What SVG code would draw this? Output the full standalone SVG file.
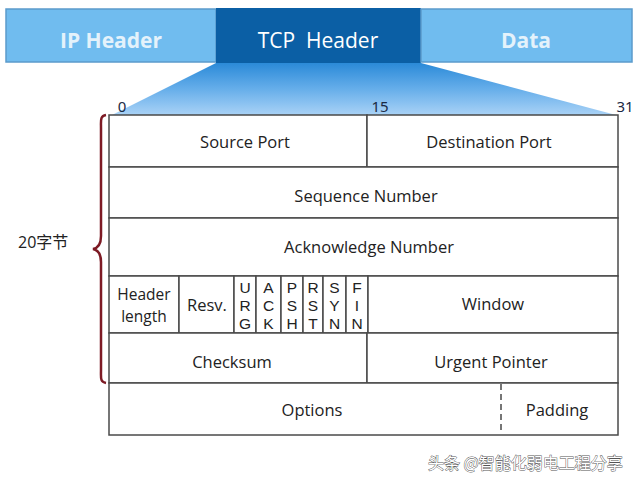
<svg xmlns="http://www.w3.org/2000/svg" width="640" height="484" viewBox="0 0 640 484">
<defs>
<linearGradient id="fan" x1="0" y1="0" x2="0" y2="1">
<stop offset="0" stop-color="#2b8ad8"/>
<stop offset="0.5" stop-color="#66aeea"/>
<stop offset="1" stop-color="#a9d2f6"/>
</linearGradient>
<style>
.cell{fill:#ffffff;stroke:#4a4a4a;stroke-width:1.5}
.ln{stroke:#4a4a4a;stroke-width:1.5;fill:none}
.t{font-family:"Open Sans","Noto Sans",sans-serif;font-size:16.5px;fill:#222;text-anchor:middle}
.h{font-family:"Open Sans","Noto Sans",sans-serif;font-size:15.5px;fill:#222;text-anchor:middle}
.f{font-family:"Liberation Sans",Arial,sans-serif;font-size:15.5px;fill:#222;text-anchor:middle}
.n{font-family:"Noto Sans","Open Sans",sans-serif;font-size:15px;fill:#1a2a44;text-anchor:middle}
.bar{font-family:"Open Sans","Noto Sans",sans-serif;font-size:21px;text-anchor:middle;white-space:pre}
</style>
</defs>
<rect width="640" height="484" fill="#ffffff"/>

<g id="ip-header">
<rect x="6" y="9" width="210" height="53" fill="#70bcef" stroke="#5b9bcc" stroke-width="1.5"/>
<text class="bar" x="111" y="48" fill="#e4f2fb" font-weight="bold">IP Header</text>
</g>
<g id="tcp-header">
<rect x="216" y="8" width="205" height="55" fill="#0b5fa5"/>
<text class="bar" x="318" y="48" fill="#ffffff" xml:space="preserve">TCP  Header</text>
</g>
<g id="data">
<rect x="421" y="9" width="211" height="53" fill="#70bcef" stroke="#5b9bcc" stroke-width="1.5"/>
<text class="bar" x="526" y="48" fill="#e4f2fb" font-weight="bold">Data</text>
</g>

<g id="expansion">
<polygon points="216,63 421,63 616,115 112,115" fill="url(#fan)"/>
</g>

<g id="bit-labels">
<text class="n" x="122" y="112">0</text>
<text class="n" x="380" y="112">15</text>
<text class="n" x="625" y="112">31</text>
</g>

<g id="row-ports">
<rect class="cell" x="109" y="115" width="258" height="52"/>
<rect class="cell" x="367" y="115" width="251" height="52"/>
<text class="t" x="245" y="148">Source Port</text>
<text class="t" x="489" y="148">Destination Port</text>
</g>
<g id="row-seq">
<rect class="cell" x="109" y="167" width="509" height="51"/>
<text class="t" x="366" y="202">Sequence Number</text>
</g>
<g id="row-ack">
<rect class="cell" x="109" y="218" width="509" height="58"/>
<text class="t" x="369" y="253">Acknowledge Number</text>
</g>
<g id="row-flags">
<rect class="cell" x="109" y="276" width="70" height="57"/>
<text class="h" x="144" y="300">Header</text>
<text class="h" x="144" y="321.5">length</text>
<rect class="cell" x="179" y="276" width="55" height="57"/>
<text class="t" x="207" y="311">Resv.</text>
<rect class="cell" x="234" y="276" width="22" height="57"/>
<text class="f" x="245" y="293">U</text><text class="f" x="245" y="311">R</text><text class="f" x="245" y="329">G</text>
<rect class="cell" x="256" y="276" width="25" height="57"/>
<text class="f" x="268.5" y="293">A</text><text class="f" x="268.5" y="311">C</text><text class="f" x="268.5" y="329">K</text>
<rect class="cell" x="281" y="276" width="22" height="57"/>
<text class="f" x="292" y="293">P</text><text class="f" x="292" y="311">S</text><text class="f" x="292" y="329">H</text>
<rect class="cell" x="303" y="276" width="20" height="57"/>
<text class="f" x="313" y="293">R</text><text class="f" x="313" y="311">S</text><text class="f" x="313" y="329">T</text>
<rect class="cell" x="323" y="276" width="23" height="57"/>
<text class="f" x="334.5" y="293">S</text><text class="f" x="334.5" y="311">Y</text><text class="f" x="334.5" y="329">N</text>
<rect class="cell" x="346" y="276" width="22" height="57"/>
<text class="f" x="357" y="293">F</text><text class="f" x="357" y="311">I</text><text class="f" x="357" y="329">N</text>
<rect class="cell" x="368" y="276" width="250" height="57"/>
<text class="t" x="493" y="310">Window</text>
</g>
<g id="row-checksum">
<rect class="cell" x="109" y="333" width="258" height="50"/>
<rect class="cell" x="367" y="333" width="251" height="50"/>
<text class="t" x="232" y="368">Checksum</text>
<text class="t" x="491" y="368">Urgent Pointer</text>
</g>
<g id="row-options">
<rect class="cell" x="109" y="383" width="509" height="52"/>
<line class="ln" x1="501" y1="384" x2="501" y2="434" stroke-dasharray="6,4"/>
<text class="t" x="312" y="416">Options</text>
<text class="t" x="557" y="416">Padding</text>
</g>

<g id="brace">
<path d="M106,115 C100,116 101,120 101,128 L101,236 C101,244 98,248 93,249 C98,250 101,254 101,262 L101,370 C101,378 100,382 106,383" fill="none" stroke="#7d1a24" stroke-width="2.5"/>
<text x="18" y="248" font-family="'Open Sans','Noto Sans CJK SC',sans-serif" font-size="16" fill="#222">20字节</text>
</g>

<g id="watermark">
<text x="428" y="469" font-family="'Noto Sans CJK SC',sans-serif" font-size="16" fill="#ffffff" stroke="#555555" stroke-width="0.9" paint-order="stroke">头条 @智能化弱电工程分享</text>
</g>
</svg>
